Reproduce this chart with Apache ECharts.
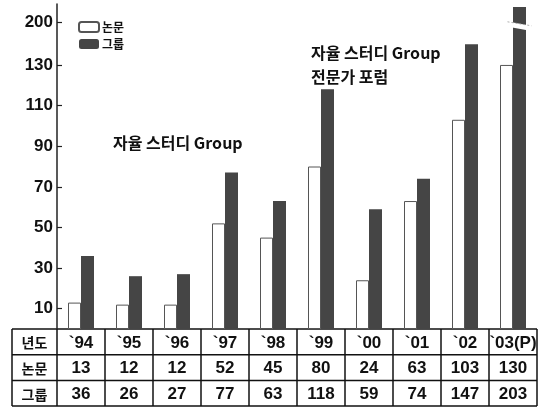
<!DOCTYPE html>
<html>
<head>
<meta charset="utf-8">
<script src="https://cdn.jsdelivr.net/npm/echarts@6/dist/echarts.min.js"></script>
<style>
  html, body { margin: 0; padding: 0; background: #fff; }
  #main { width: 540px; height: 410px; }
</style>
</head>
<body>
<div id="main"></div>
<script>
// data
var years = ['`94', '`95', '`96', '`97', '`98', '`99', '`00', '`01', '`02', '`03(P)'];
var papers = [13, 12, 12, 52, 45, 80, 24, 63, 103, 130];
var groups = [36, 26, 27, 77, 63, 118, 59, 74, 147, 203];
var tickValues = [10, 30, 50, 70, 90, 110, 130, 200];
var rowNames = ['년도', '논문', '그룹'];

var NUM_FONT = '"Liberation Sans Narrow", "Liberation Sans", "Noto Sans CJK KR", sans-serif';
var KR_FONT = '"Noto Sans CJK KR", sans-serif';

// broken axis above 130 (compressed like the original)
function scaleY(v) {
  if (v <= 130) return v;
  if (v <= 150) return 130 + (v - 130) * 0.6;
  if (v <= 200) return 142 + (v - 150) * 0.18;
  return 151 + (v - 200) * 2.5;
}

var tickPos = tickValues.map(scaleY);

var chart = echarts.init(document.getElementById('main'));

var option = {
  animation: false,
  grid: { left: 57, right: 3, top: 4, bottom: 81 },
  legend: {
    orient: 'vertical',
    left: 73,
    top: 16,
    itemWidth: 20,
    itemHeight: 10,
    itemGap: 5,
    data: ['논문', '그룹'],
    textStyle: { fontFamily: KR_FONT, fontWeight: 'bold', fontSize: 12, color: '#111', padding: [0, 0, 0, -2] }
  },
  xAxis: {
    type: 'category',
    data: years,
    axisLine: { show: false },
    axisTick: { show: false },
    axisLabel: { show: false }
  },
  yAxis: {
    type: 'value',
    min: 0,
    max: 160,
    splitLine: { show: false },
    axisLine: { show: true, lineStyle: { color: '#222', width: 1.5 } },
    axisTick: { show: true, inside: true, length: 5, customValues: tickPos, lineStyle: { color: '#222', width: 1.2 } },
    axisLabel: {
      customValues: tickPos,
      margin: 4,
      fontFamily: NUM_FONT,
      fontWeight: 'bold',
      fontSize: 17,
      color: '#111',
      formatter: function (val) {
        for (var i = 0; i < tickPos.length; i++) {
          if (Math.abs(tickPos[i] - val) < 0.01) return String(tickValues[i]);
        }
        return '';
      }
    }
  },
  series: [
    {
      name: '논문',
      type: 'bar',
      barWidth: 13,
      barGap: '0%',
      data: papers.map(scaleY),
      itemStyle: { color: '#fff', borderColor: '#555', borderWidth: 1 }
    },
    {
      name: '그룹',
      type: 'bar',
      barWidth: 13,
      data: groups.map(scaleY),
      itemStyle: { color: '#454545' }
    }
  ]
};

chart.setOption(option);

// table under the plot and the text notes
var graphics = [];
var x0 = chart.convertToPixel({ gridIndex: 0 }, [0, 0]);
var x1 = chart.convertToPixel({ gridIndex: 0 }, [1, 0]);
var band = x1[0] - x0[0];
var baseY = x0[1];
var rowH = 25.7;
var tableLeft = 12;
var tableRight = chart.convertToPixel({ gridIndex: 0 }, [years.length - 1, 0])[0] + band / 2;
var lineStyle = { stroke: '#111', lineWidth: 1.5 };

for (var r = 0; r <= 3; r++) {
  graphics.push({ type: 'line', shape: { x1: tableLeft, y1: baseY + r * rowH, x2: tableRight, y2: baseY + r * rowH }, style: lineStyle });
}
graphics.push({ type: 'line', shape: { x1: tableLeft, y1: baseY, x2: tableLeft, y2: baseY + 3 * rowH }, style: lineStyle });
for (var i = 0; i < years.length; i++) {
  var cx = chart.convertToPixel({ gridIndex: 0 }, [i, 0])[0];
  var xl = cx - band / 2;
  graphics.push({ type: 'line', shape: { x1: xl, y1: baseY, x2: xl, y2: baseY + 3 * rowH }, style: lineStyle });
  var cells = [years[i], String(papers[i]), String(groups[i])];
  for (var r2 = 0; r2 < 3; r2++) {
    graphics.push({
      type: 'text',
      x: cx, y: baseY + r2 * rowH + rowH / 2 + 1,
      style: { text: cells[r2], font: 'bold 17px ' + NUM_FONT, fill: '#111', textAlign: 'center', textVerticalAlign: 'middle', align: 'center', verticalAlign: 'middle' }
    });
  }
}
graphics.push({ type: 'line', shape: { x1: tableRight, y1: baseY, x2: tableRight, y2: baseY + 3 * rowH }, style: lineStyle });
for (var r3 = 0; r3 < 3; r3++) {
  graphics.push({
    type: 'text',
    x: (tableLeft + x0[0] - band / 2) / 2, y: baseY + r3 * rowH + rowH / 2 + 1,
    style: { text: rowNames[r3], font: 'bold 14px ' + KR_FONT, fill: '#111', textAlign: 'center', textVerticalAlign: 'middle', align: 'center', verticalAlign: 'middle' }
  });
}

// break mark on the last group bar
var last = chart.convertToPixel({ gridIndex: 0 }, [years.length - 1, scaleY(200)]);
var bx = last[0] + 6.5, by = last[1] + 4;
graphics.push({ type: 'line', z: 100, shape: { x1: bx - 11, y1: by - 2, x2: bx + 11, y2: by + 2 }, style: { stroke: '#fff', lineWidth: 5 } });
graphics.push({ type: 'line', z: 101, shape: { x1: bx - 12, y1: by - 4.5, x2: bx + 12, y2: by - 0.5 }, style: { stroke: '#999', lineWidth: 0.8, lineDash: [2, 2] } });

// notes
graphics.push({
  type: 'text', x: 113, y: 143,
  style: { text: '자율 스터디 Group', font: 'bold 16px ' + KR_FONT, fill: '#111', textVerticalAlign: 'middle', verticalAlign: 'middle' }
});
graphics.push({
  type: 'text', x: 311, y: 53,
  style: { text: '자율 스터디 Group', font: 'bold 16px ' + KR_FONT, fill: '#111', textVerticalAlign: 'middle', verticalAlign: 'middle' }
});
graphics.push({
  type: 'text', x: 311, y: 77,
  style: { text: '전문가 포럼', font: 'bold 16px ' + KR_FONT, fill: '#111', textVerticalAlign: 'middle', verticalAlign: 'middle' }
});

chart.setOption({ graphic: graphics });
</script>
</body>
</html>
